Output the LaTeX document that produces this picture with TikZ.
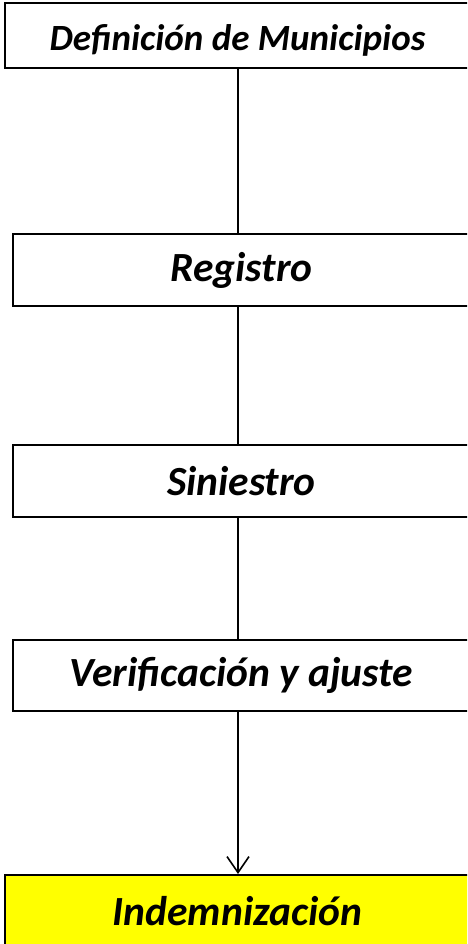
\documentclass[tikz,border=0pt]{standalone}
\usepackage{fontspec}
\setmainfont{Carlito}
\usetikzlibrary{arrows.meta}
\definecolor{boxyellow}{RGB}{255,255,0}
\begin{document}
\begin{tikzpicture}[x=1pt,y=1pt,
  stepbox/.style={draw=black, line width=2pt, fill=white, rectangle, inner sep=0pt,
    font=\fontsize{41.5}{46}\selectfont\bfseries\itshape},
  conn/.style={draw=black, line width=1.6pt}]
\useasboundingbox (0,0) rectangle (467,944);
\begin{scope}
\clip (0,0) rectangle (467,944);
\node[stepbox, font=\fontsize{37}{42}\selectfont\bfseries\itshape, text height=30pt, text depth=0pt, minimum width=465pt, minimum height=65pt] (b1) at (237.5,908.5) {Definición de Municipios};
\node[stepbox, minimum width=457pt, minimum height=72pt] (b2) at (241.5,674) {Registro};
\node[stepbox, minimum width=457pt, minimum height=72pt] (b3) at (241.5,463) {Siniestro};
\node[stepbox, minimum width=457pt, minimum height=71pt] (b4) at (241.5,268.5) {Verificación y ajuste};
\node[stepbox, fill=boxyellow, minimum width=465pt, minimum height=72pt] (b5) at (237.5,33) {Indemnización};
\end{scope}
\coordinate (axis) at (238,0);
\draw[conn] (b1.south -| axis) -- (b2.north -| axis);
\draw[conn] (b2.south -| axis) -- (b3.north -| axis);
\draw[conn] (b3.south -| axis) -- (b4.north -| axis);
\draw[conn, -{Straight Barb[length=16pt, width=22pt, line width=1.6pt]}] (b4.south -| axis) -- (b5.north -| axis);
\end{tikzpicture}
\end{document}
